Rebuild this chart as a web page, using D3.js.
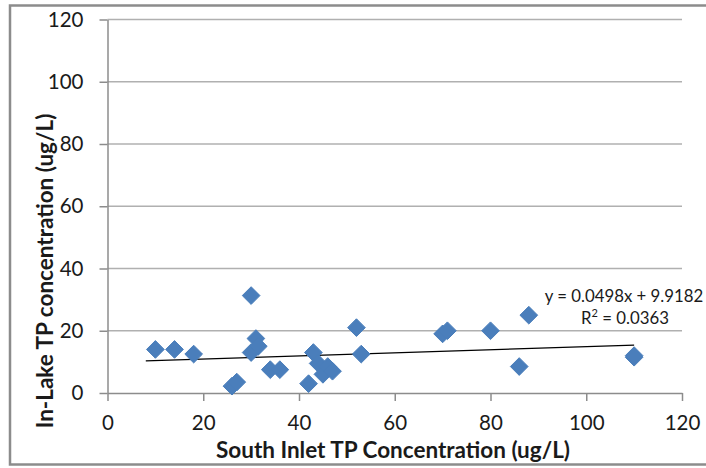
<!DOCTYPE html>
<html><head><meta charset="utf-8">
<script src="https://cdn.jsdelivr.net/npm/d3@7"></script>
<style>
html,body{margin:0;padding:0;background:#fff;}
svg{display:block;font-family:Lato,"Open Sans",sans-serif;}
</style></head>
<body><svg id="c" width="706" height="468"></svg>
<script>
const inletTP = [10,14,18,30,30,31,31.5,26,27,34,36,43,42,44,45,46,47,52,53,70,71,80,88,86,110,110];
const lakeTP  = [14,14,12.5,31.3,13,17.5,15,2.2,3.5,7.5,7.5,13,3,9.5,6,8.5,7,21,12.5,19,20,20,25,8.5,11.5,12];
const xTicks = [0,20,40,60,80,100,120];
const yTicks = [0,20,40,60,80,100,120];
const trendSlope = 0.0498, trendIntercept = 9.9182;
const trendRange = [8,110];
const eqLabel = "y = 0.0498x + 9.9182";
const r2Label = "0.0363";
const xTitle = "South Inlet TP Concentration (ug/L)";
const yTitle = "In-Lake TP concentration (ug/L)";

const svg = d3.select("#c");
// outer frame
svg.append("rect").attr("x",10).attr("y",5.5).attr("width",720).attr("height",459)
  .attr("fill","none").attr("stroke","#8c8c8c").attr("stroke-width",2.5);

const x = d3.scaleLinear().domain([0,120]).range([107.5,682]);
const y = d3.scaleLinear().domain([0,120]).range([393,19.5]);

// gridlines
svg.append("g").selectAll("line").data(yTicks.slice(1)).join("line")
  .attr("x1",x(0)).attr("x2",x(120)).attr("y1",d=>y(d)).attr("y2",d=>y(d))
  .attr("stroke","#b0b0b0").attr("stroke-width",1.5);

const xAxis = svg.append("g").attr("transform",`translate(0,${y(0)})`)
  .call(d3.axisBottom(x).tickValues(xTicks).tickSize(8).tickPadding(14).tickSizeOuter(0));
const yAxis = svg.append("g").attr("transform",`translate(${x(0)},0)`)
  .call(d3.axisLeft(y).tickValues(yTicks).tickSize(8).tickPadding(16).tickSizeOuter(0));
[xAxis,yAxis].forEach(a=>{
  a.select(".domain").attr("stroke","#8c8c8c").attr("stroke-width",1.5);
  a.selectAll(".tick line").attr("stroke","#8c8c8c").attr("stroke-width",1.5);
  a.selectAll(".tick text").attr("font-family","Lato").attr("font-size",20.5).attr("fill","#1a1a1a");
});

// trendline
svg.append("line")
  .attr("x1",x(trendRange[0])).attr("y1",y(trendSlope*trendRange[0]+trendIntercept))
  .attr("x2",x(trendRange[1])).attr("y2",y(trendSlope*trendRange[1]+trendIntercept))
  .attr("stroke","#000").attr("stroke-width",1.2);

// points
const sym = d3.symbol().type(d3.symbolDiamond2).size(200);
svg.append("g").selectAll("path").data(inletTP.map((v,i)=>[v,lakeTP[i]])).join("path")
  .attr("transform",d=>`translate(${x(d[0])},${y(d[1])})`)
  .attr("d",sym).attr("fill","#4a7ebb").attr("stroke","#4a7ebb").attr("stroke-width",1);

// equation label
const eq = svg.append("g").attr("font-family","Lato").attr("font-size",16.8).attr("fill","#1a1a1a");
eq.append("text").attr("x",624).attr("y",302).attr("text-anchor","middle").text(eqLabel);
const r2 = eq.append("text").attr("x",625).attr("y",324).attr("text-anchor","middle");
r2.append("tspan").text("R");
r2.append("tspan").attr("font-size",11).attr("dy",-7).text("2");
r2.append("tspan").attr("dy",7).text(" = " + r2Label);

// axis titles
svg.append("text").attr("x",393).attr("y",458).attr("text-anchor","middle")
  .attr("font-family","Lato").attr("font-weight","bold").attr("font-size",22.5).attr("fill","#1a1a1a")
  .text(xTitle);
svg.append("text").attr("transform","translate(53,271) rotate(-90)").attr("text-anchor","middle")
  .attr("font-family","Lato").attr("font-weight","bold").attr("font-size",22.5).attr("fill","#1a1a1a")
  .text(yTitle);
</script></body></html>
